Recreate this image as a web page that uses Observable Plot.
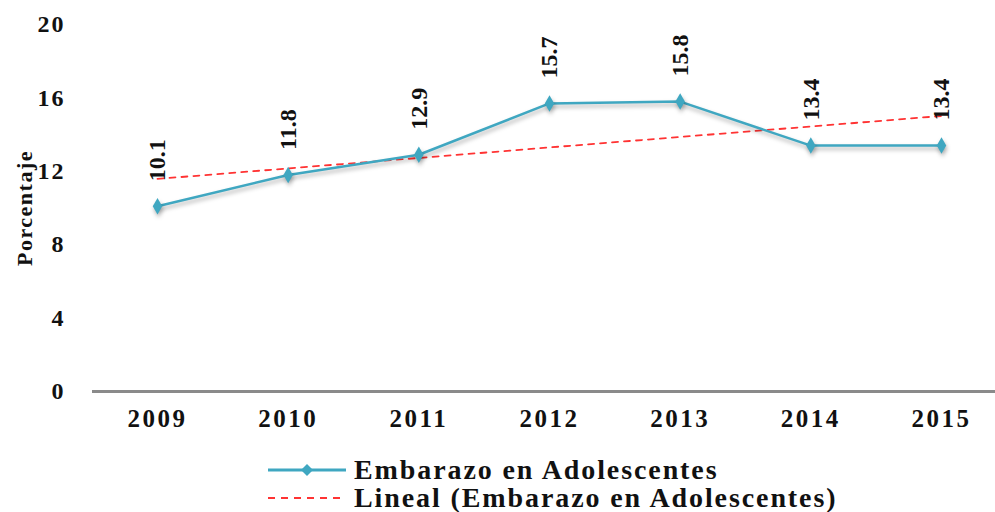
<!DOCTYPE html>
<html><head><meta charset="utf-8">
<script src="https://cdn.jsdelivr.net/npm/d3@7"></script>
<script src="https://cdn.jsdelivr.net/npm/@observablehq/plot@0.6"></script>
<style>
body{margin:0;background:#fff;font-family:"Liberation Serif","Times New Roman","DejaVu Serif",serif;}
#legend{position:absolute;left:268px;top:456px;font-weight:bold;font-size:28px;letter-spacing:1.9px;color:#111;line-height:28px}
.row{display:flex;align-items:center;height:28px}
.row svg{margin-right:6px}
g[aria-label="line"] path{filter:drop-shadow(1px 3px 2px rgba(0,0,0,0.3));}
g[aria-label="dot"] path{filter:drop-shadow(1px 3px 2px rgba(0,0,0,0.3));}
</style></head>
<body>
<div id="chart"></div>
<div id="legend"></div>
<script>
const years = [2009, 2010, 2011, 2012, 2013, 2014, 2015];
const values = [10.1, 11.8, 12.9, 15.7, 15.8, 13.4, 13.4];
const yTicks = [0, 4, 8, 12, 16, 20];
const seriesName = "Embarazo en Adolescentes";
const trendName = "Lineal (Embarazo en Adolescentes)";
const lineColor = "#3fa7c1";
const trendColor = "#ff3333";
const serif = "'Liberation Serif','Times New Roman','DejaVu Serif',serif";

const data = years.map((y, i) => ({year: y, value: values[i]}));

const chart = Plot.plot({
  width: 995, height: 450,
  marginLeft: 92, marginRight: 0, marginTop: 24, marginBottom: 59,
  style: {fontFamily: serif, fontWeight: "bold", fontSize: "24px", color: "#111", background: "white", overflow: "visible"},
  x: {type: "linear", domain: [2009, 2015], insetLeft: 65, insetRight: 54, ticks: years, tickFormat: d => String(d), tickSize: 0, tickPadding: 18, label: null},
  y: {domain: [0, 20], ticks: yTicks, tickSize: 0, tickPadding: 27, label: "Porcentaje", labelAnchor: "center", labelOffset: 76, labelArrow: "none"},
  marks: [
    Plot.ruleY([0], {stroke: "#8a8a8a", strokeWidth: 3}),
    Plot.linearRegressionY(data, {x: "year", y: "value", ci: 0, stroke: trendColor, strokeWidth: 1.8, strokeDasharray: "6,6"}),
    Plot.line(data, {x: "year", y: "value", stroke: lineColor, strokeWidth: 2.5}),
    Plot.dot(data, {x: "year", y: "value", symbol: "diamond", r: 5, fill: lineColor}),
    Plot.text(data, {x: "year", y: "value", text: d => d.value.toFixed(1), rotate: -90, textAnchor: "start", lineAnchor: "middle", dy: -25, fontSize: 24, fontWeight: "bold", fill: "#111"})
  ]
});
document.getElementById("chart").appendChild(chart);
chart.querySelectorAll("g[aria-label='x-axis tick label'] text").forEach(t => {t.style.fontSize = "25px"; t.style.letterSpacing = "2.5px";});
chart.querySelectorAll("g[aria-label='y-axis tick label'] text").forEach(t => {t.style.letterSpacing = "2px";});
chart.querySelectorAll("g[aria-label='y-axis label'] text").forEach(t => {t.style.fontSize = "22px"; t.style.letterSpacing = "1.5px";});

const legend = document.getElementById("legend");
legend.innerHTML = `
<div class="row"><svg width="80" height="14"><line x1="0" y1="7" x2="78" y2="7" stroke="${lineColor}" stroke-width="3"/><path d="M39,1 L45,7 L39,13 L33,7Z" fill="${lineColor}"/></svg><span>${seriesName}</span></div>
<div class="row"><svg width="80" height="14"><line x1="0" y1="7" x2="74" y2="7" stroke="${trendColor}" stroke-width="2" stroke-dasharray="7,6"/></svg><span>${trendName}</span></div>`;
</script>
</body></html>
